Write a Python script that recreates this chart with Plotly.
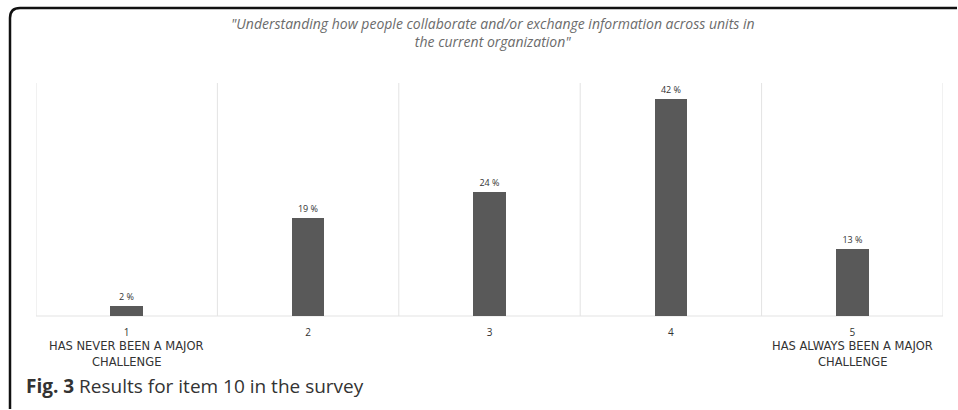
import plotly.graph_objects as go

categories = [1, 2, 3, 4, 5]
tick_labels = ["1", "2", "3", "4", "5"]
end_labels = {1: ["HAS NEVER BEEN A MAJOR", "CHALLENGE"],
              5: ["HAS ALWAYS BEEN A MAJOR", "CHALLENGE"]}
values = [2, 19, 24, 42, 13]
value_labels = [f"{v} %" for v in values]
title_text = '"Understanding how people collaborate and/or exchange information across units in<br>the current organization"'
caption = "<b>Fig. 3</b> Results for item 10 in the survey"

W, H = 958, 410
L, R, T, B = 36, 15, 83, 94
PW, PH = W - L - R, H - T - B


def px(x):
    return (x - L) / PW


def py(y):
    return (H - B - y) / PH


fig = go.Figure()
fig.add_trace(go.Bar(
    x=categories, y=values, width=0.18,
    marker=dict(color="#595959", line=dict(width=0)),
    text=value_labels, textposition="outside",
    textfont=dict(family="Open Sans", size=9, color="#333333"),
    cliponaxis=False,
))

shapes = []
for xv in [0.5, 1.5, 2.5, 3.5, 4.5, 5.5]:
    shapes.append(dict(type="line", xref="x", yref="paper", x0=xv, x1=xv, y0=0, y1=1,
                       line=dict(color="#e3e3e3", width=1), layer="below"))
shapes.append(dict(type="line", xref="paper", yref="paper", x0=0, x1=1, y0=0, y1=0,
                   line=dict(color="#e3e3e3", width=1.2), layer="below"))
# frame with rounded top-left corner
r = 10
x0, y0 = 10, 8
path = (f"M {px(x0)},{py(409)} L {px(x0)},{py(y0 + r)} "
        f"Q {px(x0)},{py(y0)} {px(x0 + r)},{py(y0)} L {px(957)},{py(y0)}")
shapes.append(dict(type="path", xref="paper", yref="paper", path=path,
                   line=dict(color="#111111", width=2.5)))

annotations = [
    dict(text="<i>" + title_text + "</i>", xref="paper", yref="paper",
         x=px(493), y=py(32), xanchor="center", yanchor="middle", showarrow=False,
         font=dict(family="Open Sans", size=14, color="#6b6b6b")),
    dict(text=caption, xref="paper", yref="paper", x=px(24), y=py(386),
         xanchor="left", yanchor="middle", showarrow=False,
         font=dict(family="Open Sans", size=19, color="#333333")),
]
for cat, lines in end_labels.items():
    for i, line in enumerate(lines):
        annotations.append(dict(text=line, xref="x", yref="paper", x=cat, y=py(346 + 15.5 * i),
                                xanchor="center", yanchor="middle", showarrow=False,
                                font=dict(family="DejaVu Sans", size=11.5, color="#333333")))

fig.update_layout(
    width=W, height=H,
    margin=dict(l=L, r=R, t=T, b=B, autoexpand=False),
    paper_bgcolor="white", plot_bgcolor="white",
    showlegend=False,
    bargap=0,
    shapes=shapes,
    xaxis=dict(range=[0.5, 5.5], tickmode="array", tickvals=categories, ticktext=tick_labels,
               showgrid=False, zeroline=False, showline=False, ticks="", automargin=False,
               ticklabelstandoff=9,
               tickfont=dict(family="Open Sans", size=10, color="#333333")),
    yaxis=dict(range=[0, 45], visible=False, showgrid=False, zeroline=False),
    annotations=annotations,
)

fig.write_html("out.html", config={"displayModeBar": False},
               post_script="document.body.style.margin='0';document.body.style.overflow='hidden';")
